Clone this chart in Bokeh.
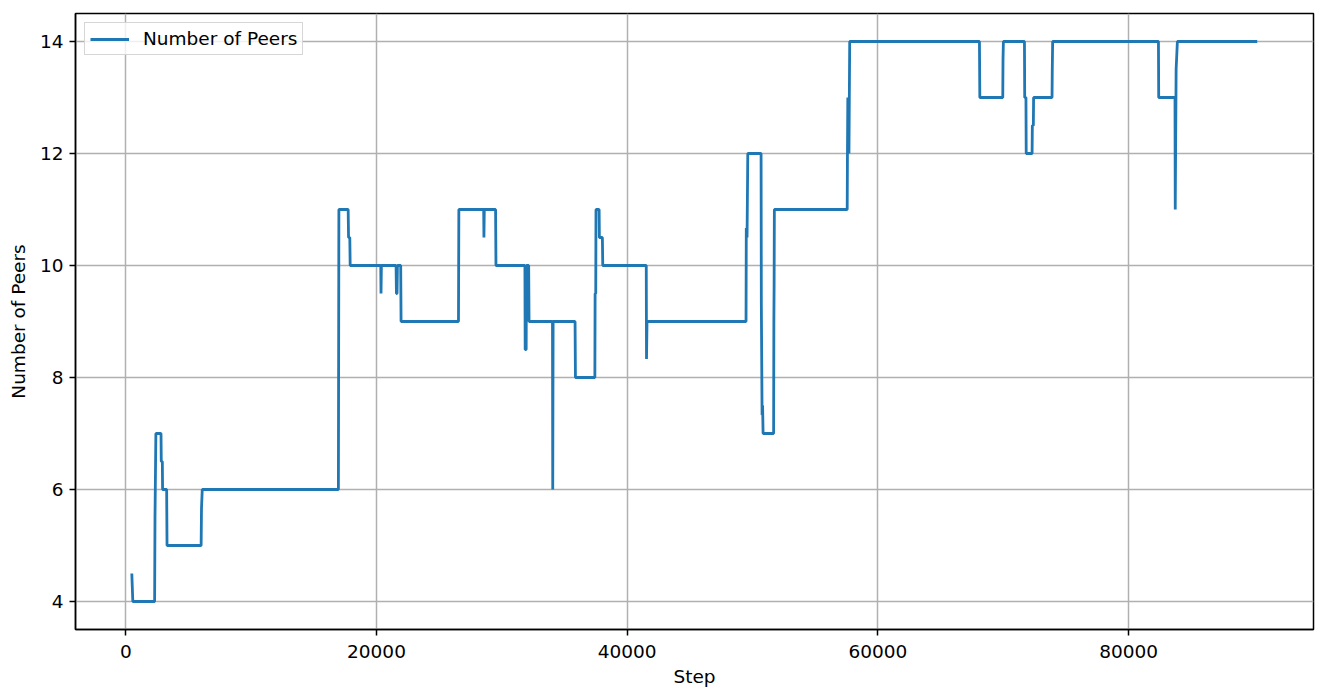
from bokeh.plotting import figure
from bokeh.models import Range1d, FixedTicker
from bokeh.embed import file_html
from bokeh.resources import INLINE

# Data (step, number of peers)
steps = [480, 560, 2300, 2330, 2400, 2810, 2830, 2915, 2935, 3260, 3290,
         6010, 6040, 6100, 16960, 17000, 17740, 17770, 17870, 17900,
         20340, 20360, 20390, 21560, 21590, 21640, 21670, 21930, 21960,
         26540, 26570, 28550, 28570, 28600, 29500, 29530,
         31840, 31860, 31940, 31960, 32140, 32170,
         34040, 34060, 34090, 35840, 35870,
         37420, 37440, 37490, 37510, 37760, 37780, 38020, 38050,
         41520, 41540, 41580, 49480, 49500, 49560, 49620,
         50680, 50700, 50760, 50800, 50840, 51680, 51700, 51720, 51740,
         57550, 57570, 57600, 57630, 57660, 57690, 57720, 57750,
         68100, 68130, 69960, 69980, 70010,
         71690, 71710, 71810, 71830, 72300, 72320, 72400, 72420,
         73890, 73910, 73940, 82380, 82400, 83700, 83720, 83790, 83890, 90260]
peers = [4.5, 4.0, 4.0, 5.5, 7.0, 7.0, 6.5, 6.5, 6.0, 6.0, 5.0,
         5.0, 5.67, 6.0, 6.0, 11.0, 11.0, 10.5, 10.5, 10.0,
         10.0, 9.5, 10.0, 10.0, 9.5, 9.5, 10.0, 10.0, 9.0,
         9.0, 11.0, 11.0, 10.5, 11.0, 11.0, 10.0,
         10.0, 8.5, 8.5, 10.0, 10.0, 9.0,
         9.0, 6.0, 9.0, 9.0, 8.0,
         8.0, 9.5, 9.5, 11.0, 11.0, 10.5, 10.5, 10.0,
         10.0, 8.33, 9.0, 9.0, 10.67, 10.5, 12.0,
         12.0, 9.33, 7.33, 7.5, 7.0, 7.0, 9.0, 9.67, 11.0,
         11.0, 12.0, 13.0, 12.0, 13.0, 12.0, 13.0, 14.0,
         14.0, 13.0, 13.0, 13.67, 14.0,
         14.0, 13.0, 13.0, 12.0, 12.0, 12.5, 12.5, 13.0,
         13.0, 13.5, 14.0, 14.0, 13.0, 13.0, 11.0, 13.5, 14.0, 14.0]

x_ticks = [0, 20000, 40000, 60000, 80000]
y_ticks = [4, 6, 8, 10, 12, 14]
series_label = "Number of Peers"
x_title = "Step"
y_title = "Number of Peers"

FONT = "DejaVu Sans"
FS = "18.5px"

p = figure(width=1321, height=691, output_backend="svg", toolbar_location=None,
           x_range=Range1d(-4012, 94749), y_range=Range1d(3.5, 14.5),
           min_border_left=75, min_border_right=8, min_border_top=13, min_border_bottom=62)

p.background_fill_color = "white"
p.border_fill_color = "white"
p.outline_line_color = "black"
p.outline_line_width = 1.5
p.outline_line_alpha = 1.0

p.line(steps, peers, line_color="#1f77b4", line_width=2.8, legend_label=series_label)

for ax in (p.xaxis, p.yaxis):
    ax.axis_line_color = "black"
    ax.axis_line_width = 1.5
    ax.major_tick_line_color = "black"
    ax.major_tick_line_width = 1.5
    ax.major_tick_out = 6
    ax.major_tick_in = 0
    ax.minor_tick_line_color = None
    ax.major_label_text_font = FONT
    ax.major_label_text_font_size = FS
    ax.major_label_text_color = "black"
    ax.axis_label_text_font = FONT
    ax.axis_label_text_font_size = FS
    ax.axis_label_text_font_style = "normal"
    ax.axis_label_text_color = "black"

p.xaxis.major_label_standoff = 9
p.yaxis.major_label_standoff = 6
p.xaxis.ticker = FixedTicker(ticks=x_ticks)
p.yaxis.ticker = FixedTicker(ticks=y_ticks)
p.xaxis.major_label_overrides = {t: str(t) for t in x_ticks}
p.yaxis.major_label_overrides = {t: str(t) for t in y_ticks}
p.xaxis.axis_label = x_title
p.yaxis.axis_label = y_title
p.xaxis.axis_label_standoff = 5
p.yaxis.axis_label_standoff = 8

p.xgrid.ticker = FixedTicker(ticks=x_ticks)
p.ygrid.ticker = FixedTicker(ticks=y_ticks)
for g in (p.xgrid, p.ygrid):
    g.grid_line_color = "#b0b0b0"
    g.grid_line_width = 1.5

lg = p.legend[0]
lg.location = "top_left"
lg.margin = 9
lg.padding = 5
lg.spacing = 0
lg.glyph_width = 39
lg.glyph_height = 20
lg.label_height = 20
lg.label_standoff = 14
lg.label_text_font = FONT
lg.label_text_font_size = FS
lg.label_text_color = "black"
lg.border_line_color = "#cccccc"
lg.border_line_width = 1.5
lg.border_line_alpha = 0.8
lg.background_fill_color = "white"
lg.background_fill_alpha = 0.8

open("out.html", "w").write(file_html(p, INLINE))
